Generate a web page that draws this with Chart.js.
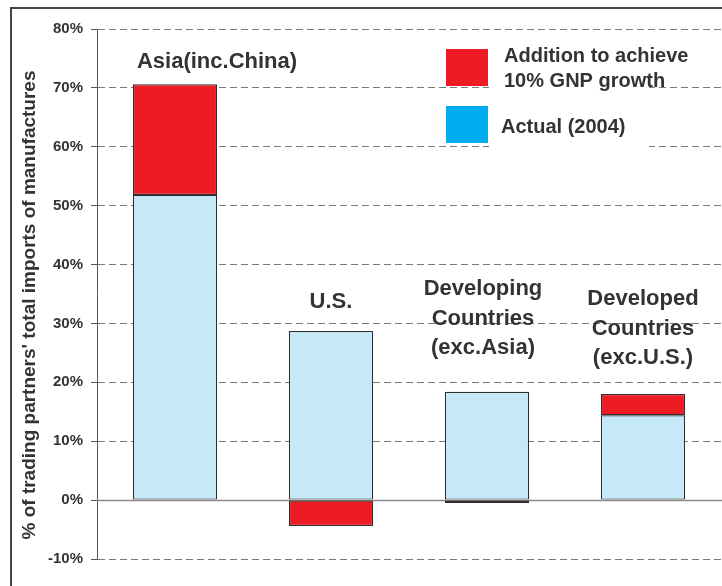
<!DOCTYPE html>
<html>
<head>
<meta charset="utf-8">
<script src="https://cdn.jsdelivr.net/npm/chart.js@4"></script>
<style>
  html, body { margin: 0; padding: 0; background: #fff; }
  #wrap { width: 722px; height: 586px; position: relative; }
</style>
</head>
<body>
<div id="wrap"><canvas id="chart" width="722" height="586"></canvas></div>
<script>
// categories and values (% of trading partners' total imports of manufactures)
const regions = ['Asia(inc.China)', 'U.S.', 'Developing Countries (exc.Asia)', 'Developed Countries (exc.U.S.)'];
const actual2004 = [51.8, 28.7, 18.4, 14.4];
const additionFor10 = [18.8, -4.4, -0.5, 3.6];
const yTicks = [-10, 0, 10, 20, 30, 40, 50, 60, 70, 80];
const yTitle = "% of trading partners' total imports of manufactures";

const TEXT = '#333333';
const FONT = '"Liberation Sans", Arial, Helvetica, sans-serif';

// labels above the bars, split into lines
const regionLines = [
    ['Asia(inc.China)'],
    ['U.S.'],
    ['Developing', 'Countries', '(exc.Asia)'],
    ['Developed', 'Countries', '(exc.U.S.)']
];
const labelAnchor = [74.4, 33.6, 35.8, 34.1]; // y value of first line
const labelShift = [42, 0, -4, 0];            // px from bar centre

const framePlugin = {
    id: 'frame',
    beforeDatasetsDraw(chart) {
        const { ctx, chartArea, scales } = chart;
        ctx.save();
        // white box behind the legend cuts the grid lines
        ctx.fillStyle = '#fff';
        ctx.fillRect(489, 38, 160, 114);
        // solid zero line
        const y0 = Math.round(scales.y.getPixelForValue(0)) + 0.5;
        ctx.strokeStyle = '#8a8a8a';
        ctx.lineWidth = 1.5;
        ctx.beginPath();
        ctx.moveTo(chartArea.left, y0);
        ctx.lineTo(chart.width, y0);
        ctx.stroke();
        ctx.restore();
    },
    afterDraw(chart) {
        const { ctx, scales } = chart;
        ctx.save();
        // outer frame (only top and left edges are visible)
        ctx.strokeStyle = '#444';
        ctx.lineWidth = 2;
        ctx.strokeRect(11, 8, 760, 640);

        // axis title
        ctx.save();
        ctx.translate(30, 305);
        ctx.rotate(-Math.PI / 2);
        ctx.fillStyle = TEXT;
        ctx.font = 'bold 19px ' + FONT;
        ctx.textAlign = 'center';
        ctx.textBaseline = 'middle';
        ctx.fillText(yTitle, 0, 0);
        ctx.restore();

        // region labels
        ctx.fillStyle = TEXT;
        ctx.font = 'bold 22px ' + FONT;
        ctx.textAlign = 'center';
        ctx.textBaseline = 'middle';
        regionLines.forEach((lines, i) => {
            const x = scales.x.getPixelForValue(i) + labelShift[i];
            const y = scales.y.getPixelForValue(labelAnchor[i]);
            lines.forEach((line, j) => ctx.fillText(line, x, y + j * 29.5));
        });

        // legend
        ctx.fillStyle = '#ED1C24';
        ctx.fillRect(446, 49, 42, 37);
        ctx.fillStyle = '#00AEEF';
        ctx.fillRect(446, 106, 42, 37);
        ctx.fillStyle = TEXT;
        ctx.font = 'bold 20px ' + FONT;
        ctx.textAlign = 'left';
        ctx.fillText('Addition to achieve', 504, 56);
        ctx.fillText('10% GNP growth', 504, 81);
        ctx.fillText('Actual (2004)', 501, 127);
        ctx.restore();
    }
};

const ctx = document.getElementById('chart').getContext('2d');
new Chart(ctx, {
    type: 'bar',
    data: {
        labels: regions,
        datasets: [
            {
                label: 'Actual (2004)',
                data: actual2004,
                backgroundColor: '#C6E9F8',
                borderColor: '#2e2e2e',
                borderWidth: 1.2,
                borderSkipped: false
            },
            {
                label: 'Addition to achieve 10% GNP growth',
                data: additionFor10,
                backgroundColor: '#ED1C24',
                borderColor: '#2e2e2e',
                borderWidth: 1.2,
                borderSkipped: false
            }
        ]
    },
    options: {
        responsive: false,
        animation: false,
        layout: { padding: { top: 29, bottom: 27, left: 0, right: 1 } },
        datasets: { bar: { categoryPercentage: 1, barPercentage: 0.54 } },
        plugins: {
            legend: { display: false },
            tooltip: { enabled: false }
        },
        scales: {
            x: { display: false, stacked: true },
            y: {
                stacked: true,
                min: -10,
                max: 80,
                afterFit(scale) { scale.width = 97; },
                afterBuildTicks(scale) { scale.ticks = yTicks.map(v => ({ value: v })); },
                ticks: {
                    padding: 8,
                    color: TEXT,
                    font: { family: FONT, size: 15, weight: 'bold' },
                    callback: v => v + '%'
                },
                grid: {
                    color: '#7a7a7a',
                    lineWidth: 1,
                    tickLength: 6,
                    tickColor: '#555',
                    tickBorderDash: []
                },
                border: { display: true, color: '#555', width: 1, dash: [7, 4] }
            }
        }
    },
    plugins: [framePlugin]
});
</script>
</body>
</html>
